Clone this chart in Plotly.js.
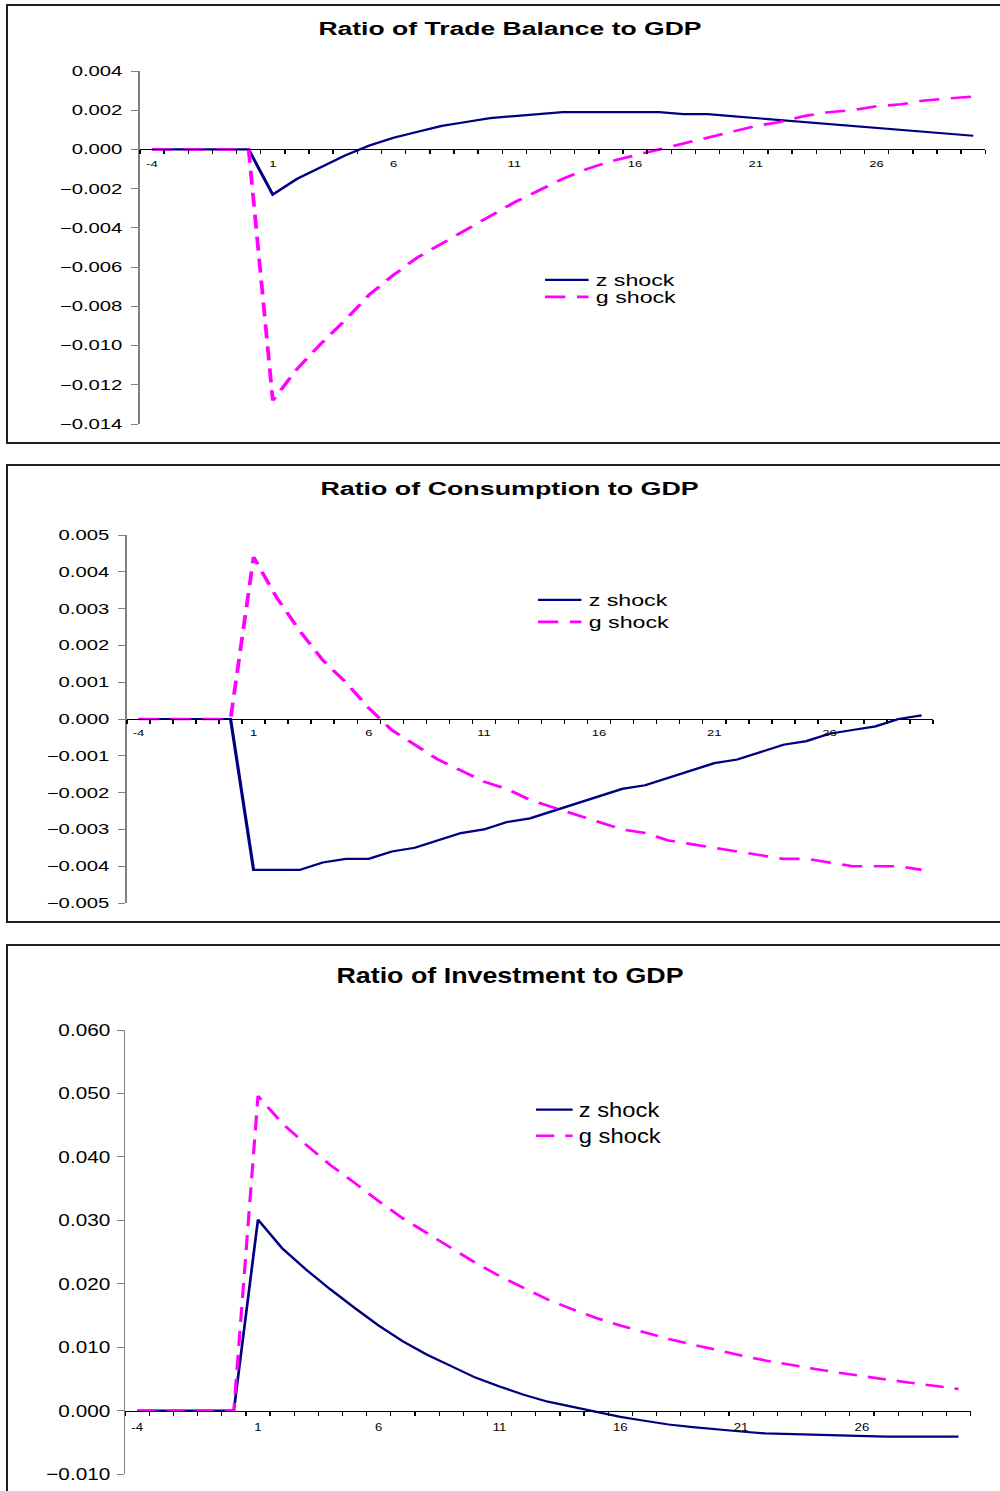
<!DOCTYPE html>
<html><head><meta charset="utf-8">
<script src="https://cdn.plot.ly/plotly-3.0.1.min.js"></script>
<style>
html,body{margin:0;padding:0;background:#fff;overflow:hidden;width:1000px;height:1491px;}
.frame{position:absolute;left:6px;border:2px solid #1e1e1e;box-sizing:border-box;overflow:hidden;background:#fff;}
.plot{position:absolute;left:0;top:0;transform-origin:0 0;}
</style></head><body>
<div class="frame" style="top:4px;width:1100px;height:440px;"><div class="plot" id="p1"></div></div>
<div class="frame" style="top:464px;width:1100px;height:459px;"><div class="plot" id="p2"></div></div>
<div class="frame" style="top:944px;width:1100px;height:600px;"><div class="plot" id="p3"></div></div>
<script>
// ---------- data ----------
const periods = [-4,-3,-2,-1,0,1,2,3,4,5,6,7,8,9,10,11,12,13,14,15,16,17,18,19,20,21,22,23,24,25,26,27,28,29,30];
const xTickVals = [-4,1,6,11,16,21,26];
const xTickText = ['-4','1','6','11','16','21','26'];
const seriesNames = ['z shock','g shock'];

const titles = ['Ratio of Trade Balance to GDP','Ratio of Consumption to GDP','Ratio of Investment to GDP'];

const tradeZ = [0,0,0,0,0,-0.0023,-0.0015,-0.0009,-0.0003,0.0002,0.0006,0.0009,0.0012,0.0014,0.0016,0.0017,0.0018,0.0019,0.0019,0.0019,0.0019,0.0019,0.0018,0.0018,0.0017,0.0016,0.0015,0.0014,0.0013,0.0012,0.0011,0.0010,0.0009,0.0008,0.0007];
const tradeG = [0,0,0,0,0,-0.0128,-0.0112,-0.0099,-0.0087,-0.0074,-0.0064,-0.0055,-0.0048,-0.0041,-0.0034,-0.0027,-0.0021,-0.0015,-0.0010,-0.0006,-0.0003,0.0000,0.0003,0.0006,0.0009,0.0012,0.0014,0.0017,0.0019,0.0020,0.0022,0.0023,0.0025,0.0026,0.0027];

const consZ = [0,0,0,0,0,-0.0041,-0.0041,-0.0041,-0.0039,-0.0038,-0.0038,-0.0036,-0.0035,-0.0033,-0.0031,-0.0030,-0.0028,-0.0027,-0.0025,-0.0023,-0.0021,-0.0019,-0.0018,-0.0016,-0.0014,-0.0012,-0.0011,-0.0009,-0.0007,-0.0006,-0.0004,-0.0003,-0.0002,0.0000,0.0001];
const consG = [0,0,0,0,0,0.0044,0.0033,0.0024,0.0016,0.0010,0.0003,-0.0003,-0.0007,-0.0011,-0.0014,-0.0017,-0.0019,-0.0022,-0.0024,-0.0026,-0.0028,-0.0030,-0.0031,-0.0033,-0.0034,-0.0035,-0.0036,-0.0037,-0.0038,-0.0038,-0.0039,-0.0040,-0.0040,-0.0040,-0.0041];

const invZ = [0,0,0,0,0,0.0301,0.0256,0.0222,0.0191,0.0162,0.0134,0.0109,0.0088,0.0070,0.0052,0.0038,0.0025,0.0014,0.0006,-0.0002,-0.0010,-0.0016,-0.0022,-0.0026,-0.0030,-0.0033,-0.0036,-0.0037,-0.0038,-0.0040,-0.0041,-0.0041,-0.0041,-0.0041,-0.0041];
const invG = [0,0,0,0,0,0.0496,0.0453,0.0419,0.0387,0.0359,0.0330,0.0303,0.0280,0.0256,0.0233,0.0212,0.0193,0.0175,0.0160,0.0146,0.0134,0.0123,0.0113,0.0104,0.0095,0.0087,0.0079,0.0072,0.0066,0.0060,0.0054,0.0049,0.0044,0.0039,0.0034];

const yRanges = [[-0.014,0.004],[-0.005,0.005],[-0.010,0.060]];
const yDticks = [0.002,0.001,0.010];

// ---------- drawing ----------
const FONT = '"Liberation Sans", Arial, Helvetica, sans-serif';
const minorTicks = periods.map(p => p - 0.5).concat([periods[periods.length-1] + 0.5]);

function drawPanel(c){
  const el = document.getElementById(c.id);
  el.style.width = c.W + 'px';
  el.style.height = c.H + 'px';
  el.style.transform = 'scaleX(' + c.s + ')';
  const yr = c.yRange;
  const zeroPos = (0 - yr[0]) / (yr[1] - yr[0]);
  const traces = [
    {x: periods, y: c.z, type:'scatter', mode:'lines', name: seriesNames[0],
     line:{color:'#000080', width:2.2}, legend:'legend', hoverinfo:'skip'},
    {x: periods, y: c.g, type:'scatter', mode:'lines', name: seriesNames[1],
     line:{color:'#FF00FF', width:2.6, dash:c.dash}, legend:'legend2', hoverinfo:'skip'}
  ];
  const legendBase = {xref:'container', yref:'container', xanchor:'left', yanchor:'middle',
    bgcolor:'rgba(0,0,0,0)', borderwidth:0, font:{family:FONT, size:c.legFont, color:'#000'}};
  const layout = {
    width: c.W, height: c.H,
    margin: {l:c.l, r:c.r, t:c.t, b:c.b, pad:0, autoexpand:false},
    paper_bgcolor:'#fff', plot_bgcolor:'#fff',
    font:{family:FONT, color:'#000'},
    showlegend:true,
    title:{text:c.title, font:{family:FONT, size:c.titleFont, weight:'bold', color:'#000'},
      x:c.titleX / c.W, xref:'container', xanchor:'center',
      y:1 - c.titleY / c.H, yref:'container', yanchor:'middle'},
    xaxis:{range:[-4.5, 30.5], tickmode:'array', tickvals:xTickVals, ticktext:xTickText,
      ticks:'', showline:true, linecolor:'#000', linewidth:1, showgrid:false, zeroline:false,
      anchor:'free', position:zeroPos, ticklabelstandoff:c.xStand,
      tickfont:{family:FONT, size:c.xFont, color:'#000'},
      minor:{tickmode:'array', tickvals:minorTicks, ticks:'outside', ticklen:4, tickwidth:1, tickcolor:'#000', showgrid:false},
      fixedrange:true},
    yaxis:{range:yr, tickmode:'linear', tick0:0, dtick:c.dtick, tickformat:'.3f',
      ticks:'outside', ticklen:c.yTickLen, tickwidth:1, tickcolor:'#808080',
      showline:true, linecolor:'#808080', linewidth:1.3, showgrid:false, zeroline:false,
      ticklabelstandoff:c.yStand,
      tickfont:{family:FONT, size:c.yFont, color:'#000'}, fixedrange:true},
    legend:Object.assign({}, legendBase, {x:c.legX / c.W, y:1 - c.legZy / c.H}),
    legend2:Object.assign({}, legendBase, {x:c.legX / c.W, y:1 - c.legGy / c.H})
  };
  Plotly.newPlot(el, traces, layout, {staticPlot:true, displayModeBar:false});
}

drawPanel({id:'p1', s:1.45, W:700, H:436, l:91, r:26.2, t:65, b:18,
  title:titles[0], titleFont:18.3, titleX:346.2, titleY:23,
  z:tradeZ, g:tradeG, yRange:yRanges[0], dtick:yDticks[0],
  yFont:14, yTickLen:5, yStand:3, xFont:9, xStand:6,
  legFont:16, legX:365.4, legZy:274, legGy:291, dash:'14px,8px'});

drawPanel({id:'p2', s:1.45, W:700, H:455, l:81.8, r:62.1, t:69, b:17.7,
  title:titles[1], titleFont:18.5, titleX:345.9, titleY:23,
  z:consZ, g:consG, yRange:yRanges[1], dtick:yDticks[1],
  yFont:14, yTickLen:5, yStand:3, xFont:9, xStand:5,
  legFont:16, legX:360.5, legZy:134, legGy:156, dash:'14px,8px'});

drawPanel({id:'p3', s:1.22, W:840, H:596, l:96.4, r:51.1, t:84, b:67.5,
  title:titles[2], titleFont:22, titleX:411.5, titleY:29,
  z:invZ, g:invG, yRange:yRanges[2], dtick:yDticks[2],
  yFont:17, yTickLen:5.5, yStand:2, xFont:10.8, xStand:6,
  legFont:19.5, legX:427.8, legZy:164, legGy:190, dash:'15px,9px'});
</script>
</body></html>
